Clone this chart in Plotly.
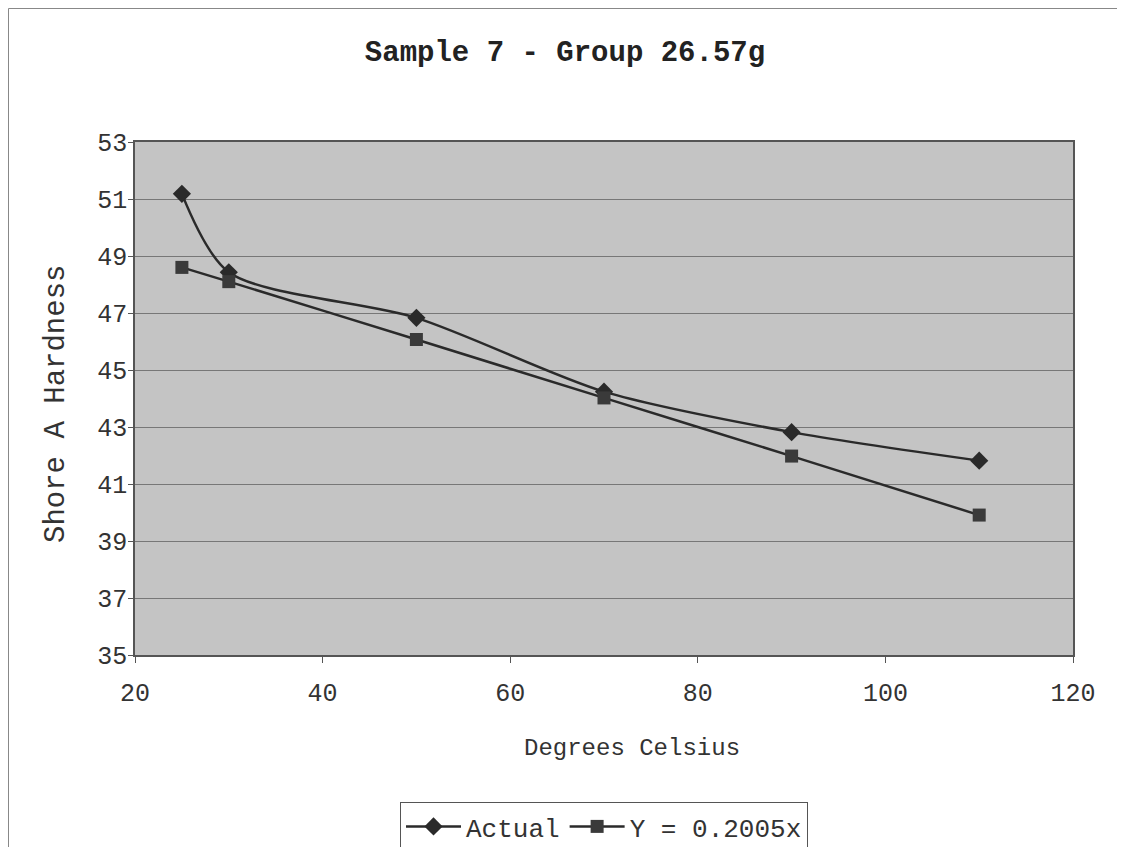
import plotly.graph_objects as go

temps = [25, 30, 50, 70, 90, 110]
actual = [51.18, 48.43, 46.83, 44.24, 42.82, 41.82]
trend = [48.60, 48.10, 46.07, 44.02, 41.98, 39.91]
y_ticks = [35, 37, 39, 41, 43, 45, 47, 49, 51, 53]
x_ticks = [20, 40, 60, 80, 100, 120]

FONT = "Liberation Mono, Courier New, monospace"

fig = go.Figure()
fig.add_trace(go.Scatter(
    x=temps, y=actual, name="Actual", mode="lines+markers",
    line=dict(color="#2a2a2a", width=2.5, shape="spline", smoothing=0.8),
    marker=dict(symbol="diamond", size=14, color="#2a2a2a"),
))
fig.add_trace(go.Scatter(
    x=temps, y=trend, name="Y = 0.2005x", mode="lines+markers",
    line=dict(color="#2a2a2a", width=2.5, shape="spline", smoothing=0.8),
    marker=dict(symbol="square", size=13, color="#3a3a3a"),
))

# page body offset (8px) accounted for: figure coords = reference - 8
OFF = 8
W, H = 1117, 839
L, R, T, B = 135 - OFF, W - (1073 - OFF), 142 - OFF, H - (655 - OFF)
pw, ph = W - L - R, H - T - B

def px(xp):
    return (xp - OFF - L) / pw

def py(yp):
    return (H - B - (yp - OFF)) / ph

fig.update_layout(
    width=W, height=H,
    margin=dict(l=L, r=R, t=T, b=B, autoexpand=False),
    paper_bgcolor="white",
    plot_bgcolor="#c4c4c4",
    font=dict(family=FONT, size=25, color="#333333"),
    title=dict(text="<b>Sample 7 - Group 26.57g</b>", x=(565 - OFF) / W, xanchor="center",
               y=1 - (51 - OFF) / H, yanchor="middle",
               font=dict(family=FONT, size=29, color="#222222")),
    xaxis=dict(range=[20, 120], tickvals=x_ticks, showgrid=False, zeroline=False,
               showline=True, linecolor="#555555", linewidth=1.5, mirror=True,
               ticks="outside", ticklen=6, tickcolor="#555555", automargin=False,
               ticklabelstandoff=8, tickfont=dict(size=25)),
    yaxis=dict(range=[35, 53], tickvals=y_ticks, showgrid=True, gridcolor="#777777",
               gridwidth=1, zeroline=False,
               showline=True, linecolor="#555555", linewidth=1.5, mirror=True,
               ticks="outside", ticklen=5, tickcolor="#555555", automargin=False,
               ticklabelstandoff=-4, tickfont=dict(size=25)),
    legend=dict(orientation="h", x=0.5, xanchor="center", y=py(802), yanchor="top",
                bgcolor="white", bordercolor="#555555", borderwidth=1,
                font=dict(family=FONT, size=26, color="#333333"),
                itemwidth=55, tracegroupgap=0),
    annotations=[
        dict(text="Degrees Celsius", x=px(632), y=py(748), xref="paper", yref="paper",
             showarrow=False, xanchor="center", yanchor="middle",
             font=dict(family=FONT, size=24, color="#333333")),
        dict(text="Shore A Hardness", x=px(56), y=py(404), xref="paper", yref="paper",
             showarrow=False, xanchor="center", yanchor="middle", textangle=-90,
             font=dict(family=FONT, size=29, color="#333333")),
    ],
    shapes=[dict(type="rect", xref="paper", yref="paper",
                 x0=px(8.5), x1=px(1123), y0=py(870), y1=py(8.5),
                 line=dict(color="#888888", width=1), fillcolor="rgba(0,0,0,0)",
                 layer="below")],
)

fig.write_html("out.html")
